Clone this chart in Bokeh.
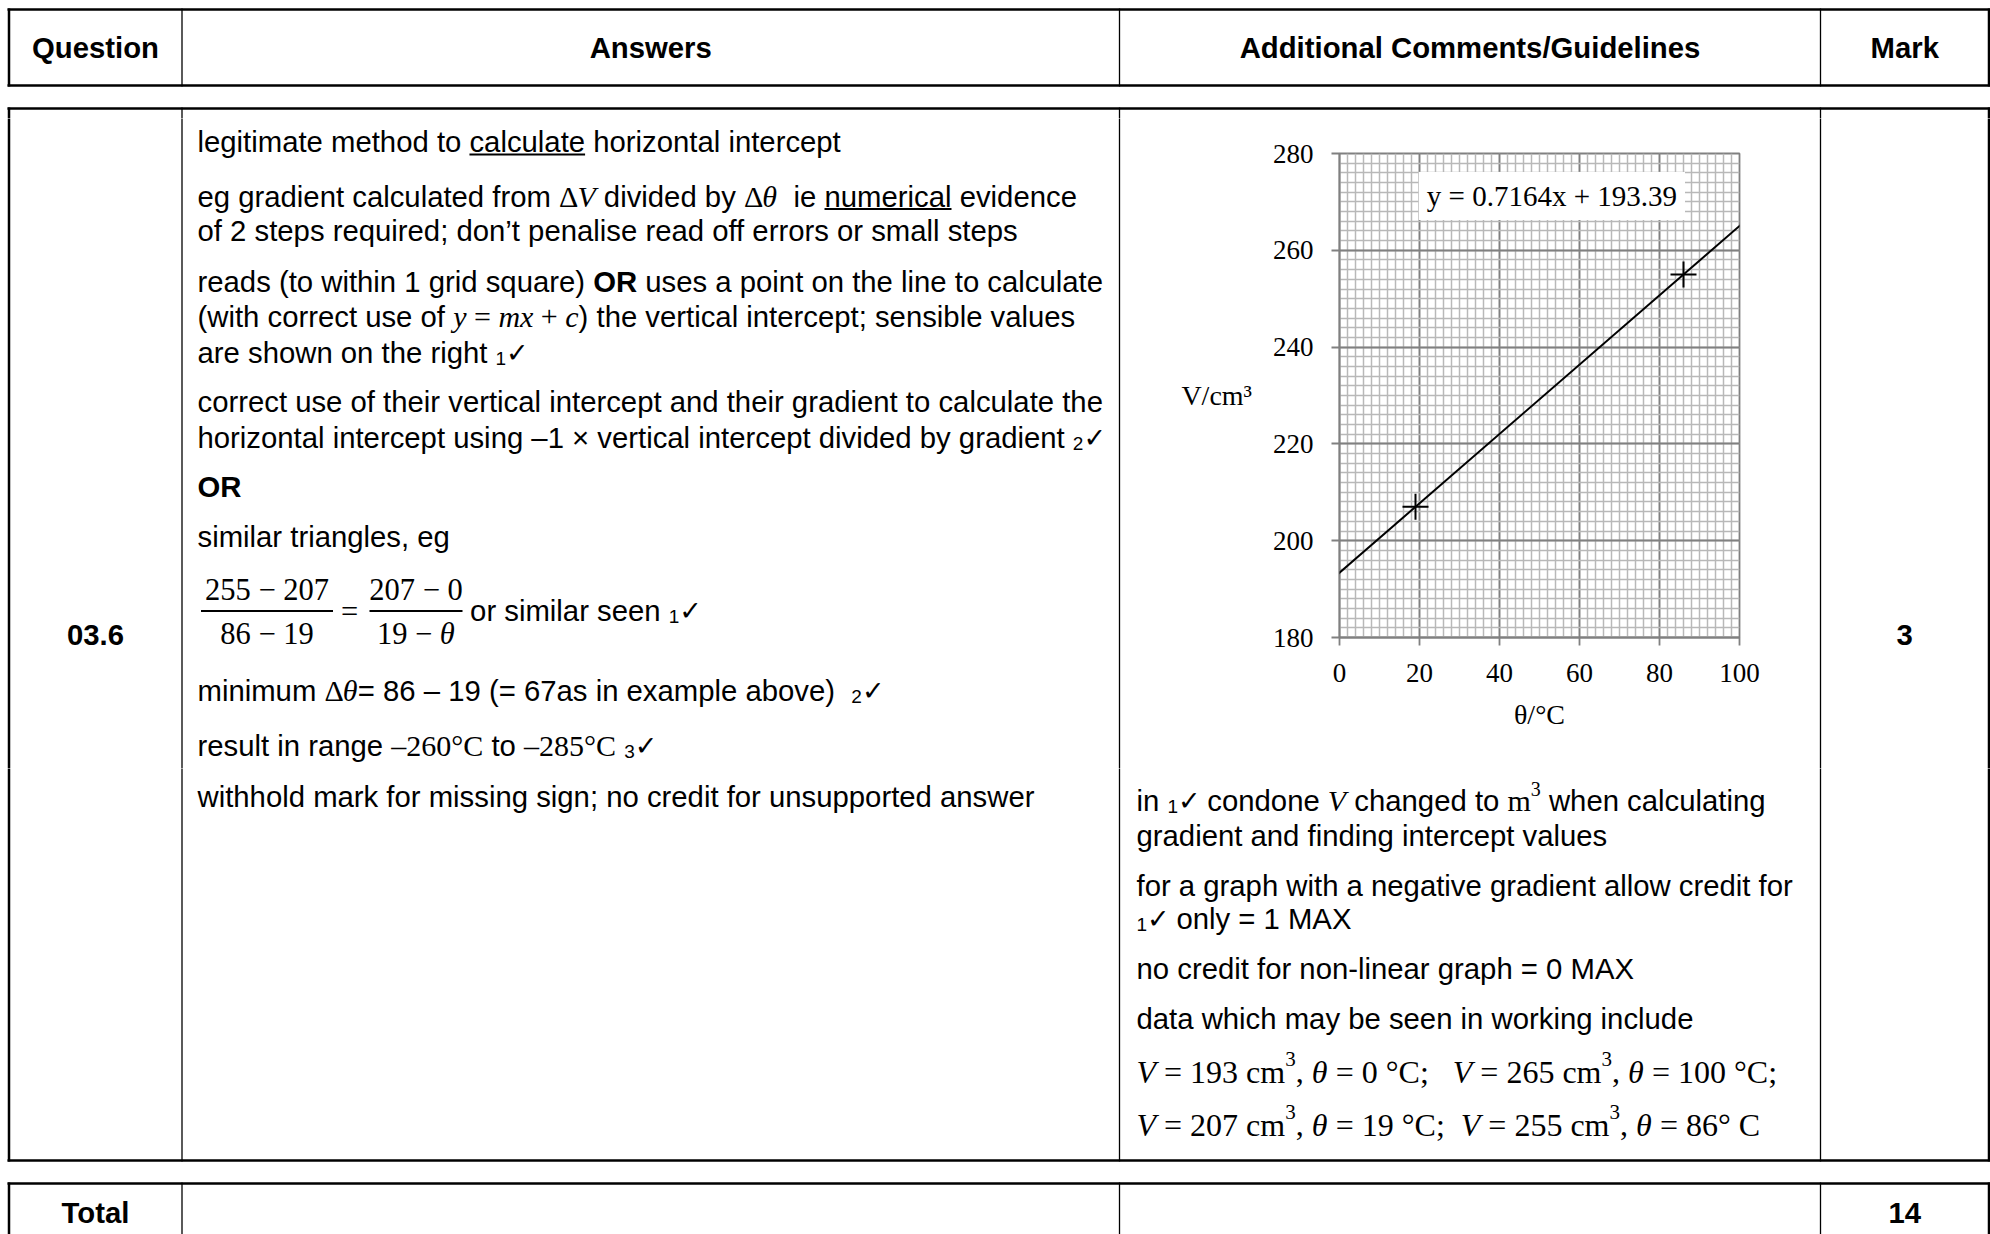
from bokeh.plotting import figure
from bokeh.layouts import column, row
from bokeh.models import Range1d, SingleIntervalTicker, Slope, Label
from bokeh.core.properties import value
from bokeh.embed import file_html
from bokeh.resources import INLINE

# ---------------- chart data ----------------
theta_points = [19, 86]          # °C
volume_points = [207, 255]       # cm^3
fit_gradient = 0.7164
fit_intercept = 193.39
fit_label = "y = 0.7164x + 193.39"
x_limits = [0, 100]
y_limits = [180, 280]
tick_interval = 20
minor_per_major = 10
x_axis_label = "θ/°C"
y_axis_label = "V/cm³"

# ---------------- table texts ----------------
header_labels = ["Question", "Answers", "Additional Comments/Guidelines", "Mark"]
question_id = "03.6"
question_mark = "3"
total_label = "Total"
total_mark = "14"

# ---------------- page geometry (pixels) ----------------
PL, PT, PR, PB = 0, 0, 1990, 1234
SPLIT_T, SPLIT_B = 118, 768
CH_L, CH_R = 1125, 1815
COLS = [8.5, 181.5, 1119, 1820, 1988.5]

SANS, SERIF, CHECKF = "Liberation Sans", "Liberation Serif", "DejaVu Sans"


def blank(x0, x1, y0, y1):
    f = figure(width=int(x1 - x0), height=int(y1 - y0),
               x_range=Range1d(x0, x1), y_range=Range1d(y1, y0),
               tools="", toolbar_location=None, output_backend="svg",
               min_border=0, outline_line_color=None,
               x_axis_location=None, y_axis_location=None,
               background_fill_color="white", border_fill_color="white",
               frame_align=False)
    f.grid.grid_line_color = None
    return f


top = blank(PL, PR, PT, SPLIT_T)
left = blank(PL, CH_L, SPLIT_T, SPLIT_B)
right = blank(CH_R, PR, SPLIT_T, SPLIT_B)
bottom = blank(PL, PR, SPLIT_B, PB)
pieces = [top, left, right, bottom]


def fig_for(x, y):
    if y < SPLIT_T:
        return top
    if y >= SPLIT_B:
        return bottom
    return left if x < CH_L else right


# ---------------- font metrics (Arial / Times compatible) ----------------
W_SANS = {' ': 278, '!': 278, '"': 355, "'": 191, '(': 333, ')': 333, '*': 389, '+': 584,
          ',': 278, '-': 333, '.': 278, '/': 278, ':': 278, ';': 278, '=': 584, '?': 556,
          'A': 667, 'B': 667, 'C': 722, 'D': 722, 'E': 667, 'F': 611, 'G': 778, 'H': 722,
          'I': 278, 'J': 500, 'K': 667, 'L': 556, 'M': 833, 'N': 722, 'O': 778, 'P': 667,
          'Q': 778, 'R': 722, 'S': 667, 'T': 611, 'U': 722, 'V': 667, 'W': 944, 'X': 667,
          'Y': 667, 'Z': 611, 'a': 556, 'b': 556, 'c': 500, 'd': 556, 'e': 556, 'f': 278,
          'g': 556, 'h': 556, 'i': 222, 'j': 222, 'k': 500, 'l': 222, 'm': 833, 'n': 556,
          'o': 556, 'p': 556, 'q': 556, 'r': 333, 's': 500, 't': 278, 'u': 556, 'v': 500,
          'w': 722, 'x': 500, 'y': 500, 'z': 500, '’': 222, '–': 556, '−': 584, '×': 584,
          '°': 400}
W_SANSB = {' ': 278, 'O': 778, 'R': 722}
W_SERIF = {' ': 250, '=': 564, '+': 564, '−': 564, '–': 500, '.': 250, ',': 250, ';': 278,
           '°': 400, 'C': 667, 'V': 722, 'c': 444, 'm': 778, 'x': 500, 'y': 500, 'Δ': 612,
           'θ': 500, '/': 278}
W_SERIFI = {' ': 250, '=': 675, '+': 675, 'V': 611, 'y': 444, 'm': 722, 'x': 444, 'c': 444,
            'θ': 500}
W_CHECK = {'✓': 784}


def table_for(fam, style):
    if fam == SANS:
        return W_SANSB if style == "bold" else W_SANS
    if fam == SERIF:
        return W_SERIFI if style == "italic" else W_SERIF
    return W_CHECK


def text_width(t, fam, style, size):
    tab = table_for(fam, style)
    tot = 0
    for ch in t:
        if ch.isdigit():
            tot += 556 if fam == SANS else 500
        else:
            tot += tab.get(ch, 556)
    return tot * size / 1000.0


def S(t, u=False): return (t, SANS, "normal", 29.3, 0, u)
def B(t): return (t, SANS, "bold", 29.3, 0, False)
def R(t, size=30): return (t, SERIF, "normal", size, 0, False)
def I(t, size=30): return (t, SERIF, "italic", size, 0, False)
def SUB(t): return (t, SANS, "normal", 19, 6, False)
def SUP(t, size=20, dy=-12): return (t, SERIF, "normal", size, dy, False)
def CHK(): return ("✓", CHECKF, "normal", 27, 0, False)


def draw_runs(x0, yc, runs, fig=None):
    f = fig if fig is not None else fig_for(x0, yc)
    x = x0
    for r in runs:
        t, fam, style, size, dy, u = r
        lead = len(t) - len(t.lstrip(" "))
        core = t.strip(" ")
        xs = x + text_width(" " * lead, fam, style, size)
        wcore = text_width(core, fam, style, size)
        if core:
            f.text(x=[xs], y=[yc + dy], text=[core], text_font=value(fam),
                   text_font_style=value(style), text_font_size=value(f"{size}px"),
                   text_align=value("left"), text_baseline=value("middle"),
                   text_color="black")
        if u:
            f.segment(x0=[xs], y0=[yc + 13], x1=[xs + wcore], y1=[yc + 13],
                      line_width=2, line_color="black")
        x += text_width(t, fam, style, size)
    return x


def draw_center(xc, yc, runs):
    tot = sum(text_width(r[0], r[1], r[2], r[3]) for r in runs)
    return draw_runs(xc - tot / 2.0, yc, runs)


def hline(y, x0, x1, w):
    for f in pieces:
        f.segment(x0=[x0], y0=[y], x1=[x1], y1=[y], line_width=w, line_color="black")


def vline(x, y0, y1, w):
    for f in pieces:
        f.segment(x0=[x], y0=[y0], x1=[x], y1=[y1], line_width=w, line_color="black")


def table_block(y0, y1, bottom_line=True):
    hline(y0, PL + 7, PR - 0.5, 2.5)
    if bottom_line:
        hline(y1, PL + 7, PR - 0.5, 2.5)
    for i, cx in enumerate(COLS):
        vline(cx, y0 - 1, y1 + 1, 2.5 if i in (0, len(COLS) - 1) else 1.3)


table_block(9, 85)
table_block(108, 1160)
table_block(1183, PB + 2, bottom_line=False)

# header / id cells
centers = [(COLS[i] + COLS[i + 1]) / 2.0 for i in range(4)]


def bold_center(c, yc, lab):
    fig_for(c, yc).text(x=[c], y=[yc], text=[lab], text_font=value(SANS),
                        text_font_style=value("bold"), text_font_size=value("29.3px"),
                        text_align=value("center"), text_baseline=value("middle"),
                        text_color="black")


for c, lab in zip(centers, header_labels):
    bold_center(c, 47, lab)
bold_center(centers[0], 634.5, question_id)
bold_center(centers[3], 634.5, question_mark)
bold_center(centers[0], 1212, total_label)
bold_center(centers[3], 1212, total_mark)

# ---------------- answers column ----------------
AX = 197
draw_runs(AX, 141, [S("legitimate method to "), S("calculate", True), S(" horizontal intercept")])
draw_runs(AX, 195.5, [S("eg gradient calculated from "), R("Δ"), I("V"), S(" divided by "),
                      R("Δ"), I("θ"), S("  ie "), S("numerical", True), S(" evidence")])
draw_runs(AX, 229.7, [S("of 2 steps required; don’t penalise read off errors or small steps")])
draw_runs(AX, 280.5, [S("reads (to within 1 grid square) "), B("OR"),
                      S(" uses a point on the line to calculate")])
draw_runs(AX, 316, [S("(with correct use of "), I("y"), R(" = "), I("mx"), R(" + "), I("c"),
                    S(") the vertical intercept; sensible values")])
draw_runs(AX, 351.5, [S("are shown on the right "), SUB("1"), CHK()])
draw_runs(AX, 401, [S("correct use of their vertical intercept and their gradient to calculate the")])
draw_runs(AX, 436.6, [S("horizontal intercept using –1 × vertical intercept divided by gradient "),
                      SUB("2"), CHK()])
draw_runs(AX, 486, [B("OR")])
draw_runs(AX, 535.6, [S("similar triangles, eg")])

# fraction
draw_center(266.5, 589, [R("255 − 207", 30.5)])
draw_center(266.5, 633, [R("86 − 19", 30.5)])
draw_center(349, 611, [R("=", 30.5)])
draw_center(415.5, 589, [R("207 − 0", 30.5)])
draw_center(415.5, 633, [R("19 − ", 30.5), I("θ", 30.5)])
left.segment(x0=[200.5, 369], y0=[610.5, 610.5], x1=[332.5, 462], y1=[610.5, 610.5],
             line_width=1.8, line_color="black")
draw_runs(469.6, 610.4, [S("or similar seen "), SUB("1"), CHK()])

draw_runs(AX, 690.4, [S("minimum "), R("Δ"), I("θ"), S("= 86 – 19 (= 67as in example above)  "),
                      SUB("2"), CHK()])
draw_runs(AX, 745, [S("result in range "), R("–260°C"), S(" to "), R("–285°C"), S(" "),
                    SUB("3"), CHK()])
draw_runs(AX, 795.7, [S("withhold mark for missing sign; no credit for unsupported answer")])

# ---------------- comments column ----------------
CX = 1136
draw_runs(CX, 799.5, [S("in "), SUB("1"), CHK(), S(" condone "), I("V"), S(" changed to "),
                      R("m"), SUP("3", 20, -11), S(" when calculating")])
draw_runs(CX, 835, [S("gradient and finding intercept values")])
draw_runs(CX, 884.6, [S("for a graph with a negative gradient allow credit for")])
draw_runs(CX, 917.6, [SUB("1"), CHK(), S(" only = 1 MAX")])
draw_runs(CX, 968.3, [S("no credit for non-linear graph = 0 MAX")])
draw_runs(CX, 1017.8, [S("data which may be seen in working include")])
DS = 32
draw_runs(CX, 1071, [I("V", DS), R(" = 193 cm", DS), SUP("3", 21, -13), R(", ", DS), I("θ", DS),
                     R(" = 0 °C;   ", DS), I("V", DS), R(" = 265 cm", DS), SUP("3", 21, -13),
                     R(", ", DS), I("θ", DS), R(" = 100 °C;", DS)])
draw_runs(CX, 1124.4, [I("V", DS), R(" = 207 cm", DS), SUP("3", 21, -13), R(", ", DS), I("θ", DS),
                       R(" = 19 °C;  ", DS), I("V", DS), R(" = 255 cm", DS), SUP("3", 21, -13),
                       R(", ", DS), I("θ", DS), R(" = 86° C", DS)])

# ---------------- the chart ----------------
ch = figure(x_range=Range1d(*x_limits), y_range=Range1d(*y_limits),
            frame_width=400, frame_height=484,
            min_border_left=214, min_border_right=76, min_border_top=35, min_border_bottom=131,
            tools="", toolbar_location=None, output_backend="svg",
            background_fill_color="white", border_fill_color="white",
            outline_line_color="#808080", outline_line_width=1.8, frame_align=False)
xt = SingleIntervalTicker(interval=tick_interval, num_minor_ticks=minor_per_major)
yt = SingleIntervalTicker(interval=tick_interval, num_minor_ticks=minor_per_major)
ch.xaxis.ticker = xt
ch.xgrid.ticker = xt
ch.yaxis.ticker = yt
ch.ygrid.ticker = yt
ch.grid.grid_line_color = "#808080"
ch.grid.grid_line_width = 1.8
ch.grid.minor_grid_line_color = "#b8b8b8"
ch.grid.minor_grid_line_width = 1.5
ch.axis.axis_line_color = "#808080"
ch.axis.axis_line_width = 1.8
ch.axis.major_tick_line_color = "#808080"
ch.axis.major_tick_line_width = 1.8
ch.axis.major_tick_out = 8
ch.axis.major_tick_in = 0
ch.axis.minor_tick_line_color = None
ch.axis.major_label_text_font = SERIF
ch.axis.major_label_text_font_size = "27px"
ch.axis.major_label_text_color = "black"
ch.yaxis.major_label_standoff = 18
ch.xaxis.major_label_standoff = 18
ch.axis.axis_label_text_font = SERIF
ch.axis.axis_label_text_font_size = "28px"
ch.axis.axis_label_text_font_style = "normal"
ch.axis.axis_label_text_color = "black"
ch.xaxis.axis_label = x_axis_label
ch.xaxis.axis_label_standoff = 14
ch.yaxis.axis_label = y_axis_label
ch.yaxis.axis_label_orientation = "horizontal"
ch.yaxis.axis_label_standoff = 18

ch.add_layout(Slope(gradient=fit_gradient, y_intercept=fit_intercept,
                    line_color="black", line_width=2))
ch.scatter(theta_points, volume_points, marker="cross", size=26, line_width=2,
           line_color="black")
ch.add_layout(Label(x=53.1, y=271.2, text=fit_label, text_font=SERIF, text_font_size="29px",
                    text_align="center", text_baseline="middle", text_color="black",
                    background_fill_color="white", padding=8))

layout = column(top, row(left, ch, right), bottom)
open("out.html", "w").write(file_html(layout, INLINE))
